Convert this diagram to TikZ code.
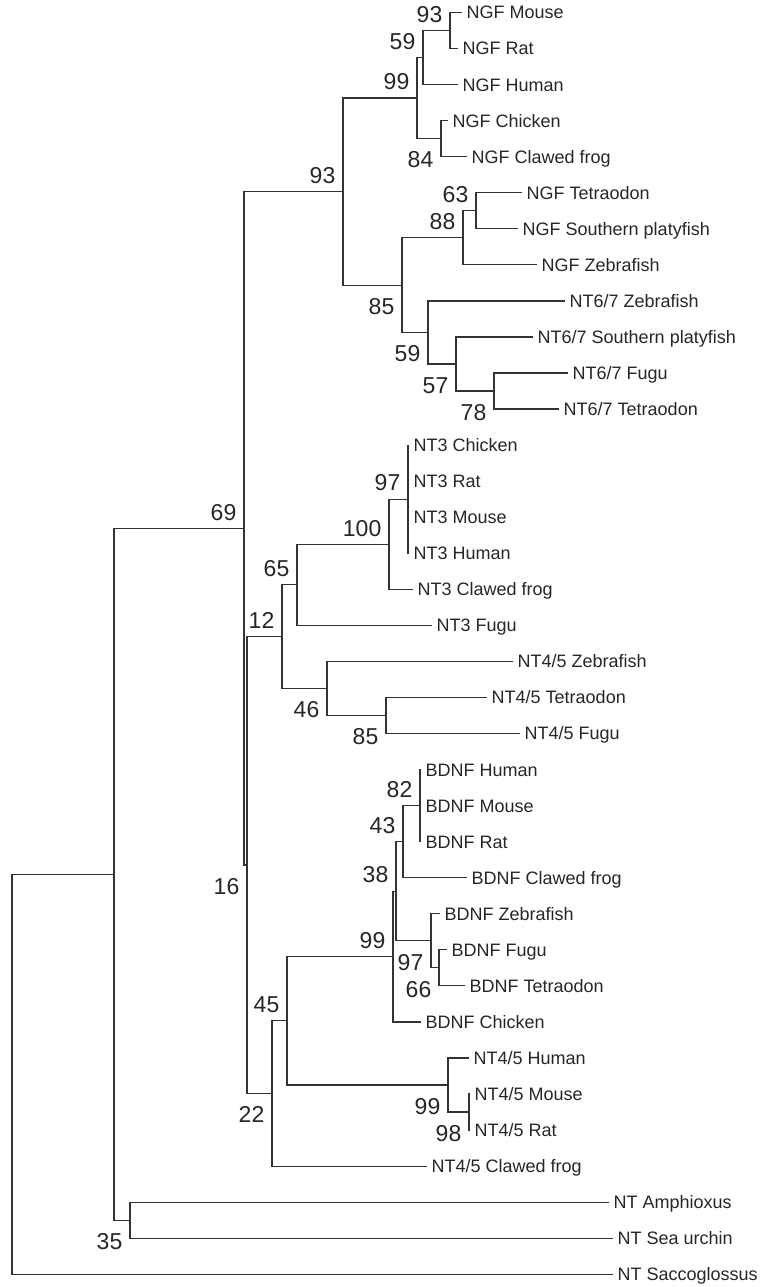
\documentclass[tikz,border=0pt]{standalone}
\usepackage{fontspec}
\setmainfont{Liberation Sans}
\begin{document}
\begin{tikzpicture}[x=1pt,y=-1pt,
  br/.style={draw=black!80, line width=1.2pt},
  leaf/.style={anchor=west, inner xsep=4.5pt, inner ysep=0pt, text height=12.9pt, text depth=0pt,
    font=\fontsize{18}{20}\selectfont, text=black!85},
  bs/.style={anchor=east, inner sep=0pt, text height=16.5pt, text depth=0pt,
    font=\fontsize{23}{25}\selectfont, text=black!85},
  bsup/.style={bs, xshift=-7.5pt, yshift=16.5pt},
  bsdn/.style={bs, xshift=-7.5pt, yshift=-21pt}]
\useasboundingbox (0,0) rectangle (770,1287);

% leaf tips
\coordinate (t1) at (462,12.5);
\coordinate (t2) at (458,48.55);
\coordinate (t3) at (458,84.6);
\coordinate (t4) at (448,120.65);
\coordinate (t5) at (467,156.7);
\coordinate (t6) at (522,192.75);
\coordinate (t7) at (518,228.8);
\coordinate (t8) at (537,264.85);
\coordinate (t9) at (565,300.9);
\coordinate (t10) at (533,336.95);
\coordinate (t11) at (568,373);
\coordinate (t12) at (559,409.05);
\coordinate (t13) at (409,445.1);
\coordinate (t14) at (409,481.15);
\coordinate (t15) at (409,517.2);
\coordinate (t16) at (409,553.25);
\coordinate (t17) at (413,589.3);
\coordinate (t18) at (432,625.35);
\coordinate (t19) at (513,661.4);
\coordinate (t20) at (487,697.45);
\coordinate (t21) at (520,733.5);
\coordinate (t22) at (421,769.55);
\coordinate (t23) at (421,805.6);
\coordinate (t24) at (421,841.65);
\coordinate (t25) at (467,877.7);
\coordinate (t26) at (440,913.75);
\coordinate (t27) at (447,949.8);
\coordinate (t28) at (465,985.85);
\coordinate (t29) at (421,1021.9);
\coordinate (t30) at (469,1057.95);
\coordinate (t31) at (470,1094);
\coordinate (t32) at (470,1130.05);
\coordinate (t33) at (427,1166.1);
\coordinate (t34) at (609,1202.15);
\coordinate (t35) at (613,1238.2);
\coordinate (t36) at (613,1274.25);

% internal nodes
\coordinate (nA) at (450,30.5);
\coordinate (nB) at (423,57.55);
\coordinate (nC) at (441,138.7);
\coordinate (nD) at (417,98.1);
\coordinate (nE) at (476,210.8);
\coordinate (nF) at (463,237.8);
\coordinate (nG) at (494,391.0);
\coordinate (nH) at (456,364.0);
\coordinate (nI) at (428,332.45);
\coordinate (nJ) at (402,285.1);
\coordinate (nK) at (343,191.6);
\coordinate (nL) at (408,499.2);
\coordinate (nM) at (389,544.25);
\coordinate (nN) at (297,584.8);
\coordinate (nO) at (386,715.5);
\coordinate (nP) at (327,688.45);
\coordinate (nQ) at (282,636.6);
\coordinate (nR) at (420,805.6);
\coordinate (nS) at (403,841.65);
\coordinate (nT) at (439,967.8);
\coordinate (nU) at (431,940.8);
\coordinate (nV) at (396,891.2);
\coordinate (nW) at (393,956.55);
\coordinate (nX) at (469,1112.0);
\coordinate (nY) at (448,1085.0);
\coordinate (nZ) at (287,1020.8);
\coordinate (nAA) at (272,1093.45);
\coordinate (nAB) at (247,865.0);
\coordinate (nAC) at (244,528.3);
\coordinate (nAD) at (130,1220.2);
\coordinate (nAE) at (114,874.25);
\coordinate (root) at (12,1074.25);

% branches
\draw[br] (nA) |- (t1);  \draw[br] (nA) |- (t2);
\draw[br] (nB) |- (nA);  \draw[br] (nB) |- (t3);
\draw[br] (nC) |- (t4);  \draw[br] (nC) |- (t5);
\draw[br] (nD) |- (nB);  \draw[br] (nD) |- (nC);
\draw[br] (nE) |- (t6);  \draw[br] (nE) |- (t7);
\draw[br] (nF) |- (nE);  \draw[br] (nF) |- (t8);
\draw[br] (nG) |- (t11); \draw[br] (nG) |- (t12);
\draw[br] (nH) |- (t10); \draw[br] (nH) |- (nG);
\draw[br] (nI) |- (t9);  \draw[br] (nI) |- (nH);
\draw[br] (nJ) |- (nF);  \draw[br] (nJ) |- (nI);
\draw[br] (nK) |- (nD);  \draw[br] (nK) |- (nJ);
\draw[br] (nL) |- (t13); \draw[br] (nL) |- (t14);
\draw[br] (nL) |- (t15); \draw[br] (nL) |- (t16);
\draw[br] (nM) |- (nL);  \draw[br] (nM) |- (t17);
\draw[br] (nN) |- (nM);  \draw[br] (nN) |- (t18);
\draw[br] (nO) |- (t20); \draw[br] (nO) |- (t21);
\draw[br] (nP) |- (t19); \draw[br] (nP) |- (nO);
\draw[br] (nQ) |- (nN);  \draw[br] (nQ) |- (nP);
\draw[br] (nR) |- (t22); \draw[br] (nR) |- (t23); \draw[br] (nR) |- (t24);
\draw[br] (nS) |- (nR);  \draw[br] (nS) |- (t25);
\draw[br] (nT) |- (t27); \draw[br] (nT) |- (t28);
\draw[br] (nU) |- (t26); \draw[br] (nU) |- (nT);
\draw[br] (nV) |- (nS);  \draw[br] (nV) |- (nU);
\draw[br] (nW) |- (nV);  \draw[br] (nW) |- (t29);
\draw[br] (nX) |- (t31); \draw[br] (nX) |- (t32);
\draw[br] (nY) |- (t30); \draw[br] (nY) |- (nX);
\draw[br] (nZ) |- (nW);  \draw[br] (nZ) |- (nY);
\draw[br] (nAA) |- (nZ); \draw[br] (nAA) |- (t33);
\draw[br] (nAB) |- (nQ); \draw[br] (nAB) |- (nAA);
\draw[br] (nAC) |- (nK); \draw[br] (nAC) |- (nAB);
\draw[br] (nAD) |- (t34); \draw[br] (nAD) |- (t35);
\draw[br] (nAE) |- (nAC); \draw[br] (nAE) |- (nAD);
\draw[br] (root) |- (nAE); \draw[br] (root) |- (t36);

% leaf labels
\node[leaf] (l1) at (t1) {NGF Mouse};
\node[leaf] (l2) at (t2) {NGF Rat};
\node[leaf] (l3) at (t3) {NGF Human};
\node[leaf] (l4) at (t4) {NGF Chicken};
\node[leaf] (l5) at (t5) {NGF Clawed frog};
\node[leaf] (l6) at (t6) {NGF Tetraodon};
\node[leaf] (l7) at (t7) {NGF Southern platyfish};
\node[leaf] (l8) at (t8) {NGF Zebrafish};
\node[leaf] (l9) at (t9) {NT6/7 Zebrafish};
\node[leaf] (l10) at (t10) {NT6/7 Southern platyfish};
\node[leaf] (l11) at (t11) {NT6/7 Fugu};
\node[leaf] (l12) at (t12) {NT6/7 Tetraodon};
\node[leaf] (l13) at (t13) {NT3 Chicken};
\node[leaf] (l14) at (t14) {NT3 Rat};
\node[leaf] (l15) at (t15) {NT3 Mouse};
\node[leaf] (l16) at (t16) {NT3 Human};
\node[leaf] (l17) at (t17) {NT3 Clawed frog};
\node[leaf] (l18) at (t18) {NT3 Fugu};
\node[leaf] (l19) at (t19) {NT4/5 Zebrafish};
\node[leaf] (l20) at (t20) {NT4/5 Tetraodon};
\node[leaf] (l21) at (t21) {NT4/5 Fugu};
\node[leaf] (l22) at (t22) {BDNF Human};
\node[leaf] (l23) at (t23) {BDNF Mouse};
\node[leaf] (l24) at (t24) {BDNF Rat};
\node[leaf] (l25) at (t25) {BDNF Clawed frog};
\node[leaf] (l26) at (t26) {BDNF Zebrafish};
\node[leaf] (l27) at (t27) {BDNF Fugu};
\node[leaf] (l28) at (t28) {BDNF Tetraodon};
\node[leaf] (l29) at (t29) {BDNF Chicken};
\node[leaf] (l30) at (t30) {NT4/5 Human};
\node[leaf] (l31) at (t31) {NT4/5 Mouse};
\node[leaf] (l32) at (t32) {NT4/5 Rat};
\node[leaf] (l33) at (t33) {NT4/5 Clawed frog};
\node[leaf] (l34) at (t34) {NT Amphioxus};
\node[leaf] (l35) at (t35) {NT Sea urchin};
\node[leaf] (l36) at (t36) {NT Saccoglossus};

% bootstrap values
\node[bsup] (bA) at (nA) {93};
\node[bsup] (bB) at (nB) {59};
\node[bsdn] (bC) at (nC) {84};
\node[bsup] (bD) at (nD) {99};
\node[bsup] (bE) at (nE) {63};
\node[bsup] (bF) at (nF) {88};
\node[bsdn] (bG) at (nG) {78};
\node[bsdn] (bH) at (nH) {57};
\node[bsdn] (bI) at (nI) {59};
\node[bsdn] (bJ) at (nJ) {85};
\node[bsup] (bK) at (nK) {93};
\node[bsup] (bL) at (nL) {97};
\node[bsup] (bM) at (nM) {100};
\node[bsup] (bN) at (nN) {65};
\node[bsdn] (bO) at (nO) {85};
\node[bsdn] (bP) at (nP) {46};
\node[bsup] (bQ) at (nQ) {12};
\node[bsup] (bR) at (nR) {82};
\node[bsup] (bS) at (nS) {43};
\node[bsdn] (bT) at (nT) {66};
\node[bsdn] (bU) at (nU) {97};
\node[bsup] (bV) at (nV) {38};
\node[bsup] (bW) at (nW) {99};
\node[bsdn] (bX) at (nX) {98};
\node[bsdn] (bY) at (nY) {99};
\node[bsup] (bZ) at (nZ) {45};
\node[bsdn] (bAA) at (nAA) {22};
\node[bsdn] (bAB) at (nAB) {16};
\node[bsup] (bAC) at (nAC) {69};
\node[bsdn] (bAD) at (nAD) {35};
\end{tikzpicture}
\end{document}
